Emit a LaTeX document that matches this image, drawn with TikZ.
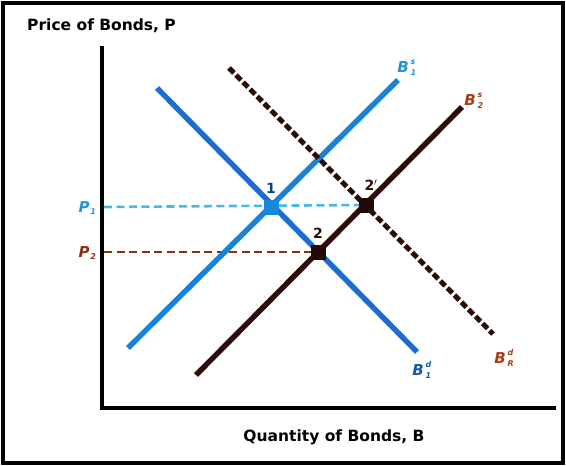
\documentclass[tikz,border=0pt]{standalone}
\usepackage{fontspec}
\setmainfont{DejaVu Sans}
\definecolor{bblue}{RGB}{28,108,210}
\definecolor{lblue}{RGB}{70,185,230}
\definecolor{cblue}{RGB}{30,150,210}
\definecolor{dbrown}{RGB}{45,12,8}
\definecolor{rbrown}{RGB}{140,45,25}
\definecolor{obrown}{RGB}{170,60,20}
\begin{document}
\begin{tikzpicture}[x=1pt,y=-1pt,
  curve/.style={line width=5.4pt},
  axisline/.style={line width=3.4pt,black},
  guide/.style={line width=2.6pt,dash pattern=on 8pt off 4.5pt},
  eq/.style={minimum size=15pt,inner sep=0pt,draw=none},
  lbl/.style={font=\fontsize{15}{15}\selectfont\bfseries\itshape,inner sep=0pt},
  idx/.style={font=\fontsize{8}{8}\selectfont\bfseries\itshape,inner sep=0pt},
  num/.style={font=\fontsize{14}{14}\selectfont\bfseries,inner sep=0pt},
  ttl/.style={font=\fontsize{15.5}{15.5}\selectfont\bfseries,inner sep=0pt},
  up/.style={anchor=south west,xshift=1.5pt,yshift=2.5pt},
  dn/.style={anchor=north west,xshift=1.5pt,yshift=-2.5pt}]
\useasboundingbox (0,0) rectangle (566,466);
\draw[line width=3.8pt] (3,3) rectangle (563,463);
% axes
\coordinate (ytop) at (102,46);
\coordinate (orig) at (102,408);
\coordinate (xend) at (556,408);
\draw[axisline] (ytop) -- (orig) -- (xend);
\node[ttl,anchor=west] (ylab) at (27,26) {Price of Bonds, P};
\node[ttl] (xlab) at (334,437) {Quantity of Bonds, B};
% key points
\coordinate (e1) at (271,207);
\coordinate (e2) at (318,252);
\coordinate (e2p) at (366,205);
\coordinate (p1a) at (104,207);
\coordinate (p2a) at (104,252);
% guides
\draw[guide,lblue] (p1a) -- (e2p);
\draw[guide,rbrown] (p2a) -- (e2);
% curves
\coordinate (bd1a) at (157,88);
\coordinate (bd1b) at (417,352);
\coordinate (bs1a) at (128,348);
\coordinate (bs1b) at (398,80);
\coordinate (bs2a) at (196,375);
\coordinate (bs2b) at (462,107);
\coordinate (bdra) at (229,68);
\coordinate (bdrb) at (493,334);
\draw[curve,bblue] (bd1a) -- (bd1b);
\draw[curve,bblue!85!cyan] (bs1a) -- (bs1b);
\draw[line width=5pt,dbrown,dash pattern=on 7pt off 3pt] (bdra) -- (bdrb);
\draw[curve,dbrown] (bs2a) -- (bs2b);
% equilibrium markers
\node[eq,fill=bblue!80!cyan] (m1) at (e1) {};
\node[eq,fill=dbrown!80!black] (m2) at (e2) {};
\node[eq,fill=dbrown!80!black] (m2p) at (e2p) {};
\node[num,text=bblue!60!black] (n1) at (271,188) {1};
\node[num,text=dbrown] (n2) at (318,233) {2};
\node[num,text=dbrown] (n2p) at (371,185) {2$'$};
% labels
\node[lbl,text=cblue] (lp1) at (84,207) {P};
\node[idx,text=cblue,anchor=north west] (lp1i) at ([xshift=0.5pt,yshift=-1pt]lp1.east) {1};
\node[lbl,text=rbrown] (lp2) at (84,252) {P};
\node[idx,text=rbrown,anchor=north west] (lp2i) at ([xshift=0.5pt,yshift=-1pt]lp2.east) {2};
% B^s_1
\node[lbl,text=cblue] (ls1) at (403,67) {B};
\node[idx,text=cblue,up] (ls1u) at (ls1.east) {s};
\node[idx,text=cblue,dn] (ls1d) at (ls1.east) {1};
% B^s_2
\node[lbl,text=obrown] (ls2) at (470,100) {B};
\node[idx,text=obrown,up] (ls2u) at (ls2.east) {s};
\node[idx,text=obrown,dn] (ls2d) at (ls2.east) {2};
% B^d_1
\node[lbl,text=bblue!80!black] (ld1) at (418,370) {B};
\node[idx,text=bblue!80!black,up] (ld1u) at (ld1.east) {d};
\node[idx,text=bblue!80!black,dn] (ld1d) at (ld1.east) {1};
% B^d_R
\node[lbl,text=obrown] (ldr) at (500,358) {B};
\node[idx,text=obrown,up] (ldru) at (ldr.east) {d};
\node[idx,text=obrown,dn] (ldrd) at (ldr.east) {R};
\end{tikzpicture}
\end{document}
